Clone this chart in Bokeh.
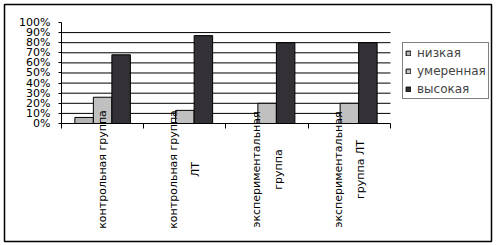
import math

from bokeh.core.properties import value
from bokeh.embed import file_html
from bokeh.models import (ColumnDataSource, FixedTicker, Legend, LegendItem,
                          LinearAxis, NumeralTickFormatter, Range1d)
from bokeh.plotting import figure
from bokeh.resources import INLINE
from bokeh.transform import dodge

# Groups and their wrapped tick labels
groups = ["контрольная группа", "контрольная группа ЛТ",
          "экспериментальная группа", "экспериментальная группа ЛТ"]
group_labels = ["контрольная группа", "контрольная группа\nЛТ",
                "экспериментальная\nгруппа", "экспериментальная\nгруппа ЛТ"]

# Share of each level per group
series_names = ["низкая", "умеренная", "высокая"]
low = [0.06, 0.00, 0.00, 0.00]
moderate = [0.26, 0.13, 0.20, 0.20]
high = [0.68, 0.87, 0.80, 0.80]

y_ticks = [0.0, 0.1, 0.2, 0.3, 0.4, 0.5, 0.6, 0.7, 0.8, 0.9, 1.0]
grid_ticks = [0.1, 0.2, 0.3, 0.4, 0.5, 0.6, 0.7, 0.8, 0.9]

FONT = "DejaVu Sans"
colors = ["#b4b4b4", "#c0c0c0", "#333036"]

n = len(groups)
centers = [i + 0.5 for i in range(n)]
src = ColumnDataSource(dict(x=centers, group=groups, label=group_labels,
                            low=low, moderate=moderate, high=high))
grid_src = ColumnDataSource(dict(y=grid_ticks, x0=[0] * len(grid_ticks),
                                 x1=[n] * len(grid_ticks)))

# The frame is the whole chart box; the plot area sits inside it
p = figure(width=496, height=245, output_backend="svg", toolbar_location=None,
           x_range=Range1d(-0.693, n + 1.228), y_range=Range1d(-1.168, 1.178),
           x_axis_type=None, y_axis_type=None,
           min_border_left=4, min_border_right=5,
           min_border_top=4, min_border_bottom=4)
p.background_fill_color = "white"
p.border_fill_color = "white"
p.outline_line_color = "black"
p.outline_line_width = 1.5
p.grid.visible = False

# Horizontal grid lines across the plot area
p.segment(x0="x0", x1="x1", y0="y", y1="y", source=grid_src,
          line_color="black", line_width=1)

bar_w = 0.225
renderers = []
for field, off, col in zip(["low", "moderate", "high"], [-bar_w, 0.0, bar_w], colors):
    r = p.vbar(x=dodge("x", off, range=p.x_range), top=field, width=bar_w,
               source=src, fill_color=col, line_color="black", line_width=1)
    renderers.append(r)

# Value axis at x = 0
yaxis = LinearAxis(fixed_location=0, bounds=(0, 1),
                   ticker=FixedTicker(ticks=y_ticks),
                   formatter=NumeralTickFormatter(format="0%"),
                   major_label_text_font=FONT, major_label_text_font_size="11px",
                   major_label_text_color="black", major_label_standoff=8,
                   major_tick_out=3, major_tick_in=0,
                   minor_tick_out=0, minor_tick_in=0,
                   axis_line_color="black", major_tick_line_color="black")
p.add_layout(yaxis, "left")

# Category axis at y = 0, ticks between the groups
xaxis = LinearAxis(fixed_location=0, bounds=(0, n),
                   ticker=FixedTicker(ticks=[], minor_ticks=list(range(n + 1))),
                   major_tick_out=0, major_tick_in=0,
                   minor_tick_out=5, minor_tick_in=0,
                   axis_line_color="black", minor_tick_line_color="black")
p.add_layout(xaxis, "below")

# Rotated group labels under the axis
p.text(x="x", y=-0.455, text="label", source=src, angle=math.pi / 2,
       text_align="center", text_baseline="middle",
       text_font=value(FONT), text_font_size="11px",
       text_line_height=1.7, text_color="black")

# Legend
legend = Legend(items=[LegendItem(label=s, renderers=[r]) for s, r in zip(series_names, renderers)],
                location=(398, 142), orientation="vertical",
                glyph_width=6, glyph_height=6, label_standoff=6,
                label_height=15, spacing=3, padding=2, margin=0,
                label_text_font=FONT, label_text_font_size="12px",
                border_line_color="black", border_line_width=1,
                background_fill_color="white", background_fill_alpha=1.0)
p.add_layout(legend)

open("out.html", "w").write(file_html(p, INLINE))
